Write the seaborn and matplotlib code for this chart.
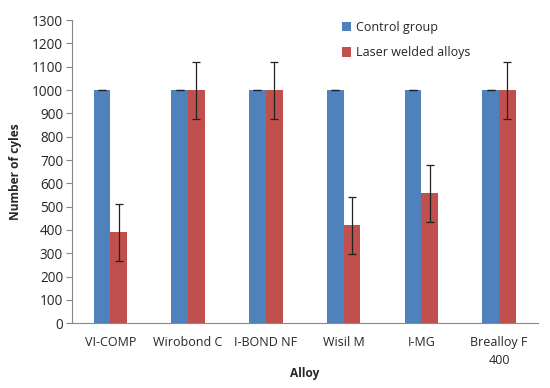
import numpy as np
import pandas as pd
import matplotlib
matplotlib.use("Agg")
import matplotlib.pyplot as plt
import seaborn as sns

# data
alloys = ["VI-COMP", "Wirobond C", "I-BOND NF", "Wisil M", "I-MG", "Brealloy F\n400"]
groups = ["Control group", "Laser welded alloys"]
control_mean = [1000, 1000, 1000, 1000, 1000, 1000]
control_err = [0, 0, 0, 0, 0, 0]
laser_mean = [390, 1000, 1000, 420, 557, 1000]
laser_err = [123, 122, 122, 122, 123, 122]

colors = ["#4F81BD", "#C0504D"]

df = pd.DataFrame({
    "alloy": alloys * 2,
    "group": [groups[0]] * len(alloys) + [groups[1]] * len(alloys),
    "cycles": control_mean + laser_mean,
    "err": control_err + laser_err,
})

sns.set_style("white")
plt.rcParams["font.family"] = ["Open Sans", "DejaVu Sans"]

fig = plt.figure(figsize=(5.5, 3.88), dpi=100)
ax = fig.add_axes([0.130, 0.167, 0.848, 0.781])

sns.barplot(data=df, x="alloy", y="cycles", hue="group", palette=colors,
            width=0.43, gap=0, errorbar=None, saturation=1, linewidth=0,
            edgecolor="none", ax=ax)

# error bars on top of each bar
for container, errs in zip(ax.containers, [control_err, laser_err]):
    xs = [p.get_x() + p.get_width() / 2 for p in container.patches]
    ys = [p.get_height() for p in container.patches]
    ax.errorbar(xs, ys, yerr=errs, fmt="none", ecolor="#222222",
                elinewidth=0.9, capsize=2.6, capthick=0.9)

ax.set_ylim(0, 1300)
ax.set_yticks(np.arange(0, 1301, 100))
ax.set_xlim(-0.5, len(alloys) - 0.5)

ax.set_xticks(range(len(alloys)))
ax.set_xticklabels(alloys, linespacing=1.5)
ax.set_xticks(np.arange(-0.5, len(alloys), 1), minor=True)
ax.tick_params(axis="x", which="major", length=0, pad=9, labelsize=9)
ax.tick_params(axis="x", which="minor", length=4, color="#888888", direction="out")
ax.tick_params(axis="y", length=4, color="#888888", direction="out", labelsize=9.8, pad=2)
ax.tick_params(axis="both", bottom=True, left=True)

for side in ["top", "right"]:
    ax.spines[side].set_visible(False)
for side in ["left", "bottom"]:
    ax.spines[side].set_color("#888888")
    ax.spines[side].set_linewidth(0.8)

ax.set_xlabel("Alloy", fontsize=8.6, fontweight="bold")
ax.xaxis.set_label_coords(0.5, -0.143)
ax.set_ylabel("Number of cyles", fontsize=8.6, fontweight="bold", labelpad=7)

leg = ax.legend(loc="upper left", bbox_to_anchor=(0.555, 1.035), frameon=False,
                fontsize=9, handlelength=0.75, handleheight=0.75,
                labelspacing=1.0, handletextpad=0.4)

fig.savefig("out.png", dpi=100)
